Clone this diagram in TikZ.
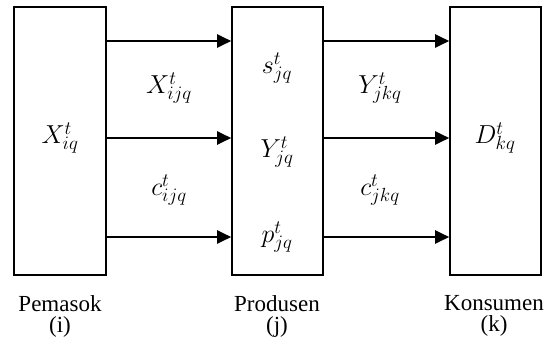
\RequirePackage{fix-cm}
\documentclass[tikz,border=0pt]{standalone}
\usepackage{fontspec}
\setmainfont{Liberation Serif}
\usetikzlibrary{arrows.meta}
\DeclareMathSizes{26}{26}{19}{15}
\begin{document}
\begin{tikzpicture}[x=1pt,y=-1pt,
  box/.style={draw,line width=1.6pt,minimum height=268pt,inner sep=0pt},
  arr/.style={line width=2.2pt,-{Triangle[length=14pt,width=13pt]}},
  lbl/.style={font=\fontsize{26}{28}\selectfont,inner sep=0pt},
  captxt/.style={font=\fontsize{23}{21}\selectfont,inner sep=0pt,align=center}]
\useasboundingbox (0,0) rectangle (557,343);
\node[box,minimum width=92pt] (b1) at (60,141) {};
\node[box,minimum width=91pt] (b2) at (277.5,141) {};
\node[box,minimum width=91pt] (b3) at (495.5,141) {};
\coordinate (r1) at (0,41);
\coordinate (r2) at (0,138);
\coordinate (r3) at (0,237);
\foreach \r in {r1,r2,r3}{
  \draw[arr] (b1.east |- \r) -- (b2.west |- \r);
  \draw[arr] (b2.east |- \r) -- (b3.west |- \r);
}
\node[lbl] (xiq) at (60,138) {$X_{iq}^t$};
\node[lbl] (xijq) at (169,88) {$X_{ijq}^t$};
\node[lbl] (cijq) at (169,190) {$c_{ijq}^t$};
\node[lbl] (sjq) at (277,68) {$s_{jq}^t$};
\node[lbl] (yjq) at (277,152) {$Y_{jq}^t$};
\node[lbl] (pjq) at (277,237) {$p_{jq}^t$};
\node[lbl] (yjkq) at (380,88) {$Y_{jkq}^t$};
\node[lbl] (cjkq) at (380,190) {$c_{jkq}^t$};
\node[lbl] (dkq) at (495,138) {$D_{kq}^t$};
\node[captxt] (t1) at (60,316) {Pemasok\\(i)};
\node[captxt] (t2) at (277,316) {Produsen\\(j)};
\node[captxt] (t3) at (494,316) {Konsumen\\(k)};
\end{tikzpicture}
\end{document}
